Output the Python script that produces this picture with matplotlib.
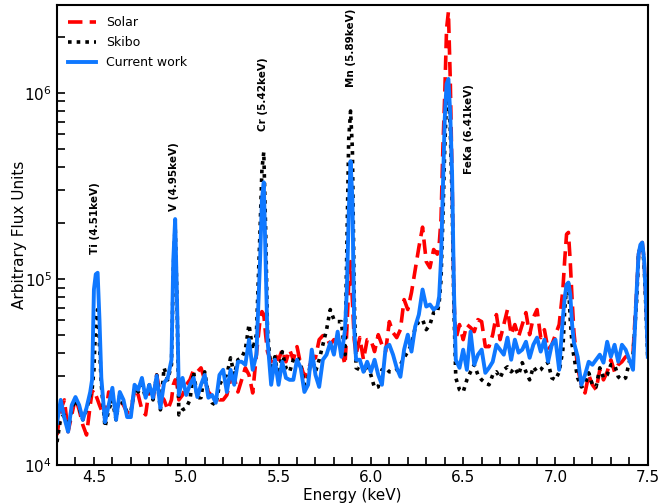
import matplotlib
matplotlib.use("Agg")
import matplotlib.pyplot as plt
from matplotlib.ticker import MultipleLocator, LogLocator, NullFormatter

energy = [4.30, 4.32, 4.34, 4.36, 4.38, 4.40, 4.42, 4.44, 4.46, 4.48,
          4.49, 4.50, 4.51, 4.52, 4.53, 4.54,
          4.56, 4.58, 4.60, 4.62, 4.64, 4.66, 4.68, 4.70, 4.72, 4.74, 4.76, 4.78,
          4.80, 4.82, 4.84, 4.86, 4.88, 4.90, 4.92,
          4.93, 4.94, 4.95, 4.96,
          4.98, 5.00, 5.02, 5.04, 5.06, 5.08, 5.10, 5.12, 5.14, 5.16, 5.18, 5.20,
          5.22, 5.24, 5.26, 5.28, 5.30, 5.32, 5.34, 5.36, 5.38, 5.40,
          5.41, 5.42, 5.43, 5.44,
          5.46, 5.48, 5.50, 5.52, 5.54, 5.56, 5.58, 5.60, 5.62, 5.64, 5.66, 5.68,
          5.70, 5.72, 5.74, 5.76, 5.78, 5.80, 5.82, 5.84, 5.86,
          5.87, 5.88, 5.89, 5.90, 5.91, 5.92,
          5.94, 5.96, 5.98, 6.00, 6.02, 6.04, 6.06, 6.08, 6.10, 6.12, 6.14, 6.16,
          6.18, 6.20, 6.22, 6.24, 6.26, 6.28, 6.30, 6.32, 6.34, 6.36,
          6.37, 6.38, 6.39, 6.40, 6.41, 6.42, 6.43, 6.44, 6.45, 6.46,
          6.48, 6.50, 6.52, 6.54, 6.56, 6.58, 6.60, 6.62, 6.64, 6.66, 6.68, 6.70,
          6.72, 6.74, 6.76, 6.78, 6.80, 6.82, 6.84, 6.86, 6.88, 6.90, 6.92, 6.94,
          6.96, 6.98, 7.00, 7.02, 7.04,
          7.05, 7.06, 7.07, 7.08, 7.09, 7.10,
          7.12, 7.14, 7.16, 7.18, 7.20, 7.22, 7.24, 7.26, 7.28, 7.30, 7.32, 7.34,
          7.36, 7.38, 7.40, 7.42, 7.44,
          7.45, 7.46, 7.47, 7.48, 7.49, 7.50]

current_work = [16800, 22400, 17900, 15100, 21000, 23200, 21000, 17500, 20300, 24700,
                28700, 87800, 106000, 108000, 60500, 29400,
                17000, 21000, 26000, 17500, 24700, 22400, 18100, 18100, 27000, 25400, 29400, 23000,
                27000, 23000, 30200, 20300, 27700, 29400, 36800,
                127000, 210000, 77500, 23800,
                29400, 23800, 27000, 29400, 23200, 27000, 30500, 23000, 23800, 21600, 30500, 32500,
                24700, 32500, 27000, 35900, 35900, 34600, 47200, 32500, 39200, 127000,
                268000, 331000, 127000, 47200,
                27000, 36800, 27000, 35900, 29400, 28700, 28700, 36800, 33300, 24700, 27000, 41700,
                30500, 26300, 36800, 39200, 45500, 39200, 52100, 38200, 53400,
                87800, 223000, 430000, 268000, 53400, 36800,
                36800, 31700, 35900, 31700, 36800, 30500, 27000, 42700, 44300, 39200, 33300, 29800,
                41700, 50200, 40700, 55400, 64400, 87800, 71100, 72900, 68500, 71100,
                80500, 127000, 304000, 724000, 1118000, 1190000, 771000, 366000, 87800, 36800,
                33300, 41700, 32500, 52100, 34600, 39200, 41700, 31300, 33300, 35900, 44300, 41700,
                39200, 48400, 36800, 47200, 40200, 41700, 46000, 37700, 44300, 48400, 40700, 47200,
                35900, 44300, 47200, 32500, 62000,
                79500, 93400, 95700, 82500, 56900, 45500,
                38200, 27000, 30500, 35900, 34600, 36800, 39200, 35500, 46000, 38200, 44300, 35900,
                44300, 41700, 36800, 32500, 87800,
                136000, 153000, 157000, 127000, 77500, 38200]

solar = [14500, 19800, 22400, 15100, 18600, 23000, 19800, 16400, 14500, 21000,
         24700, 25400, 23800, 22400, 21000, 19800,
         17900, 24700, 23000, 19300, 22400, 21000, 19100, 19100, 25400, 23800, 19800, 18600,
         26000, 22400, 30500, 23800, 22400, 19800, 22400,
         27000, 28700, 27000, 22400,
         23800, 27000, 28700, 32500, 31700, 33300, 28700, 24700, 23500, 23000, 22400, 22400,
         23800, 28700, 29400, 24700, 28700, 33300, 30500, 24400, 39200, 60500,
         66800, 64400, 50200, 40700,
         35900, 39200, 36800, 41700, 35900, 41700, 36800, 43300, 34600, 29800, 32500, 36800,
         37700, 47200, 49600, 48400, 44300, 47200, 45500, 41700, 34600,
         53400, 93400, 124000, 77500, 47200, 39200,
         48400, 36800, 47200, 47200, 40700, 50200, 44300, 40700, 59000, 51500, 48400, 53400,
         77500, 68500, 84600, 112000, 148000, 190000, 124000, 115000, 144000, 136000,
         153000, 210000, 499000, 963000, 2210000, 2730000, 1190000, 344000, 77500, 47200,
         56900, 47200, 56900, 54800, 52100, 60500, 59000, 43300, 43300, 50200, 64400, 47200,
         56900, 68500, 50200, 56900, 49000, 56900, 66000, 50200, 62000, 68500, 48400, 53400,
         41700, 44300, 50200, 56900, 87800,
         127000, 174000, 178000, 124000, 77500, 51500,
         33300, 27000, 24400, 30500, 27000, 25400, 32500, 28700, 31700, 36800, 31700, 34600,
         35900, 38200, 38700, 40200, 87800,
         136000, 153000, 157000, 127000, 77500, 41700]

skibo = [13300, 17900, 18600, 15400, 20300, 22400, 20300, 17500, 19800, 23800,
         25400, 32500, 60500, 68500, 44300, 27000,
         16000, 19800, 22400, 17500, 23800, 21000, 19300, 19300, 26000, 24700, 27000, 23000,
         27000, 22400, 30500, 19800, 33300, 28700, 34600,
         112000, 197000, 77500, 18600,
         19800, 20300, 22400, 31700, 23000, 23000, 31700, 23800, 21600, 21000, 27000, 29400,
         30500, 37700, 30500, 36800, 37700, 41700, 56900, 41700, 50200, 185000,
         389000, 481000, 185000, 53400,
         30500, 38200, 28700, 40700, 33300, 31700, 36800, 38200, 34600, 27000, 29400, 39200,
         31700, 36800, 44300, 53400, 68500, 60500, 59000, 59000, 39200,
         144000, 565000, 800000, 499000, 77500, 33300,
         32500, 31700, 34600, 30500, 26000, 26300, 32500, 33300, 31700, 31700, 32500, 34600,
         37700, 40700, 44300, 54800, 59000, 60500, 53400, 56900, 66000, 66000,
         74700, 99300, 210000, 499000, 928000, 1051000, 640000, 268000, 68500, 29400,
         25400, 24700, 28700, 31700, 34600, 30500, 28700, 27700, 27000, 30500, 31700, 29400,
         32500, 33700, 31700, 33300, 30500, 35500, 31700, 28700, 33700, 31700, 32500, 34600,
         35500, 29400, 28700, 31700, 41700,
         68500, 90000, 95700, 60500, 44300, 38200,
         29400, 26300, 27000, 31300, 27000, 26300, 33300, 29400, 30500, 34600, 34600, 29800,
         28700, 29400, 35900, 39200, 77500,
         136000, 150000, 150000, 120000, 68500, 36800]

line_labels = [("Ti (4.51keV)", 4.505, 1.36e5),
               ("V (4.95keV)", 4.935, 2.31e5),
               ("Cr (5.42keV)", 5.415, 6.24e5),
               ("Mn (5.89keV)", 5.89, 1.08e6),
               ("FeKa (6.41keV)", 6.53, 3.66e5)]

fig = plt.figure(figsize=(6.59, 5.03), dpi=100)
ax = fig.add_axes([0.0865, 0.0755, 0.8965, 0.9145])

ax.plot(energy, solar, color="#ff0000", lw=2.6, ls=(0, (4, 2)), label="Solar")
ax.plot(energy, skibo, color="black", lw=2.6, ls=(0, (1, 1.4)), label="Skibo")
ax.plot(energy, current_work, color="#0f78ff", lw=2.8, label="Current work")

ax.set_yscale("log")
ax.set_xlim(4.3, 7.5)
ax.set_ylim(1e4, 2.97e6)

ax.xaxis.set_major_locator(MultipleLocator(0.5))
ax.xaxis.set_minor_locator(MultipleLocator(0.1))
ax.yaxis.set_major_locator(LogLocator(base=10))
ax.yaxis.set_minor_locator(LogLocator(base=10, subs=range(2, 10)))
ax.yaxis.set_minor_formatter(NullFormatter())
ax.tick_params(which="both", direction="in", top=False, right=False, labelsize=11, width=1.2)
ax.tick_params(which="major", length=6)
ax.tick_params(which="minor", length=6)
for s in ax.spines.values():
    s.set_linewidth(1.5)

ax.set_xlabel("Energy (keV)", fontsize=11, labelpad=2)
ax.set_ylabel("Arbitrary Flux Units", fontsize=11, labelpad=-2)

for txt, x, y in line_labels:
    ax.text(x, y, txt, rotation=90, ha="center", va="bottom", fontsize=7.5, fontweight="bold")

ax.legend(loc="upper left", frameon=False, fontsize=9, handlelength=2.2,
          handletextpad=0.8, borderaxespad=0.5, labelspacing=0.55)

fig.savefig("out.png", dpi=100)
